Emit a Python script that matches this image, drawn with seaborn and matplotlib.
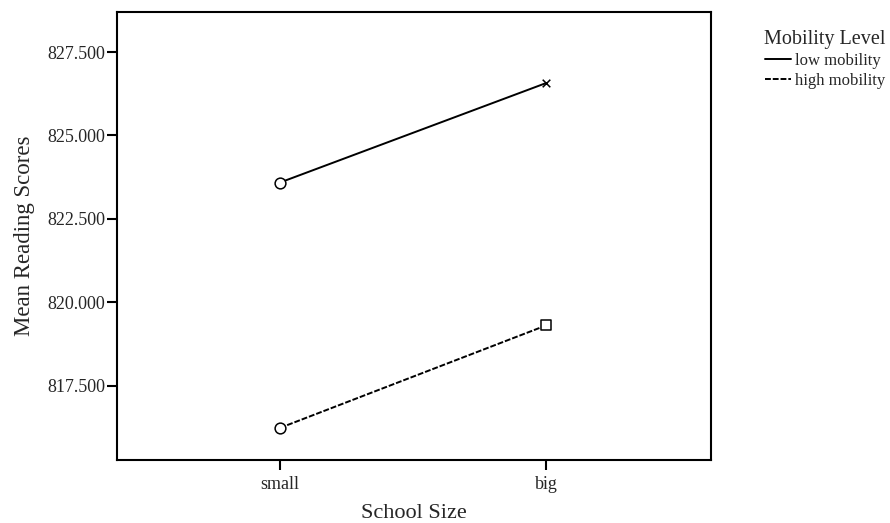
import pandas as pd
import seaborn as sns
import matplotlib.pyplot as plt
from matplotlib.ticker import FormatStrFormatter
from matplotlib.lines import Line2D

# === data ===
school_size = ["small", "big"]
low_mobility = [823.59, 826.57]
high_mobility = [816.24, 819.31]
low_markers = ["o", "x"]
high_markers = ["o", "s"]

df = pd.DataFrame({
    "School Size": school_size * 2,
    "score": low_mobility + high_mobility,
    "Mobility Level": ["low mobility"] * 2 + ["high mobility"] * 2,
})

sns.set_style("white")
plt.rcParams["font.family"] = ["Liberation Serif", "DejaVu Serif"]

fig = plt.figure(figsize=(8.9, 5.23), dpi=100)
ax = fig.add_axes([0.1315, 0.1205, 0.6674, 0.8566])

sns.lineplot(data=df, x="School Size", y="score", style="Mobility Level",
             dashes={"low mobility": "", "high mobility": (3, 1)},
             color="black", linewidth=1.4, ax=ax, legend=False, sort=False)

# markers per point, as SPSS draws them
xs = range(len(school_size))
for vals, marks in [(low_mobility, low_markers), (high_mobility, high_markers)]:
    for x, v, m in zip(xs, vals, marks):
        if m == "x":
            ax.scatter([x], [v], marker=m, s=30, color="black", linewidths=1.1, zorder=3)
        else:
            ax.scatter([x], [v], marker=m, s=60, facecolors="white",
                       edgecolors="black", linewidths=1.1, zorder=3)

ax.set_xlim(-0.612, 1.62)
ax.set_ylim(815.28, 828.70)
ax.set_yticks([817.5, 820.0, 822.5, 825.0, 827.5])
ax.yaxis.set_major_formatter(FormatStrFormatter("%.3f"))
ax.tick_params(axis="both", direction="out", length=7.5, width=1.5, color="black",
               labelsize=13, left=True, bottom=True)
ax.tick_params(axis="y", pad=1)
ax.tick_params(axis="x", pad=4)
for sp in ax.spines.values():
    sp.set_color("black")
    sp.set_linewidth(1.5)

ax.set_xlabel("School Size", fontsize=16, labelpad=8)
ax.set_ylabel("Mean Reading Scores", fontsize=16.5, labelpad=9)

handles = [Line2D([], [], color="black", linewidth=1.4, linestyle="-"),
           Line2D([], [], color="black", linewidth=1.4, dashes=(3, 1))]
leg = fig.legend(handles, ["low mobility", "high mobility"], title="Mobility Level",
                 loc="upper right", bbox_to_anchor=(1.0, 0.953), frameon=False,
                 fontsize=12, title_fontsize=14.5, handlelength=1.6, handletextpad=0.2,
                 labelspacing=0.25, alignment="right", borderpad=0.2, borderaxespad=0.1)

plt.savefig("out.png", dpi=100)
